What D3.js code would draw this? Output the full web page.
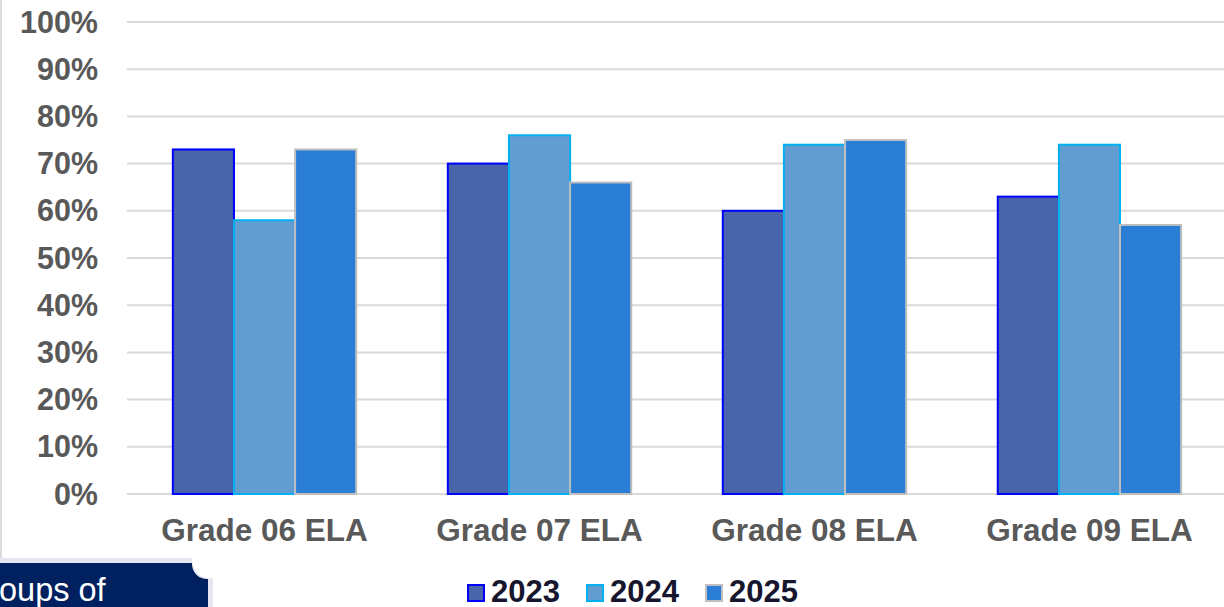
<!DOCTYPE html>
<html><head><meta charset="utf-8">
<script src="https://cdn.jsdelivr.net/npm/d3@7"></script>
<style>html,body{margin:0;padding:0;background:#fff;overflow:hidden}svg{display:block}</style>
</head><body>
<script>
const categories = ["Grade 06 ELA","Grade 07 ELA","Grade 08 ELA","Grade 09 ELA"];
const seriesNames = ["2023","2024","2025"];
const v2023 = [73,70,60,63];
const v2024 = [58,76,74,74];
const v2025 = [73,66,75,57];
const yTicks = [0,10,20,30,40,50,60,70,80,90,100];
const fills = ["#4a64ac","#629dd1","#2a7ed6"];
const strokes = ["#0000ff","#00b0f0","#bfbfbf"];
const series = [v2023,v2024,v2025];

const W=1224,H=607;
const svg=d3.select("body").append("svg").attr("width",W).attr("height",H);
const font="'Liberation Sans', Arial, sans-serif";

// slide left border
svg.append("line").attr("x1",1).attr("x2",1).attr("y1",0).attr("y2",558).attr("stroke","#dcdcdc").attr("stroke-width",2);

const y=d3.scaleLinear().domain([0,100]).range([494,22]);
const x0=d3.scaleBand().domain(categories).range([127,1227]).paddingInner(0.333).paddingOuter(0.1667);
const x1=d3.scaleBand().domain(seriesNames).range([0,x0.bandwidth()]);

// gridlines
svg.append("g").selectAll("line").data(yTicks).join("line")
 .attr("x1",127).attr("x2",1224).attr("y1",d=>y(d)).attr("y2",d=>y(d))
 .attr("stroke","#d9d9d9").attr("stroke-width",2);

// y labels
svg.append("g").selectAll("text").data(yTicks).join("text")
 .attr("x",98).attr("y",d=>y(d)+10.5).attr("text-anchor","end")
 .attr("font-family",font).attr("font-weight","bold").attr("font-size",30.5).attr("fill","#595959")
 .text(d=>d+"%");

// bars
const g=svg.append("g");
categories.forEach((c,i)=>{
  seriesNames.forEach((s,j)=>{
    const val=series[j][i];
    g.append("rect").attr("x",x0(c)+x1(s)).attr("y",y(val)).attr("width",x1.bandwidth()).attr("height",y(0)-y(val))
     .attr("fill",fills[j]).attr("stroke",strokes[j]).attr("stroke-width",2);
  });
});

// category labels
svg.append("g").selectAll("text").data(categories).join("text")
 .attr("x",d=>x0(d)+x0.bandwidth()/2).attr("y",541).attr("text-anchor","middle")
 .attr("font-family",font).attr("font-weight","bold").attr("font-size",31.5).attr("fill","#595959")
 .text(d=>d);

// legend
const legX=[467,586,705];
const lg=svg.append("g");
seriesNames.forEach((s,j)=>{
  lg.append("rect").attr("x",legX[j]+1).attr("y",585).attr("width",16).attr("height",16)
    .attr("fill",fills[j]).attr("stroke",strokes[j]).attr("stroke-width",2);
  lg.append("text").attr("x",legX[j]+24).attr("y",602)
    .attr("font-family",font).attr("font-weight","bold").attr("font-size",31).attr("fill","#16162e").text(s);
});

// navy box bottom-left
svg.append("path").attr("d","M0,558 L192,558 A18,18 0 0 0 213,578 L213,607 L0,607 Z").attr("fill","#e6e6f0");
svg.append("path").attr("d","M0,563 L192,563 A15,15 0 0 0 208,579 L208,607 L0,607 Z").attr("fill","#002060");
svg.append("text").attr("x",-1).attr("y",601).attr("font-family",font).attr("font-size",32.5).attr("fill","#ffffff").text("oups of");
</script>
</body></html>
